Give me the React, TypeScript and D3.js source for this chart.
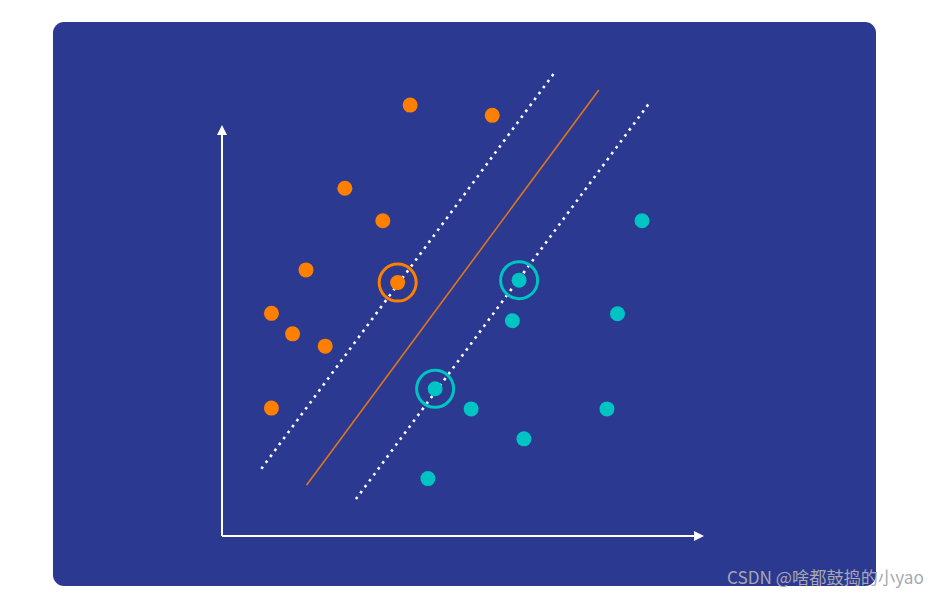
import React from "react";
import * as d3 from "d3";

// two classes of points (x, y in chart units)
const orangePoints: [number, number][] = [
  [39.2, 105.1],
  [56.3, 102.6],
  [25.6, 84.8],
  [33.5, 76.9],
  [17.5, 64.9],
  [36.6, 61.8],
  [10.3, 54.3],
  [14.7, 49.3],
  [21.5, 46.3],
  [10.3, 31.2],
];

const tealPoints: [number, number][] = [
  [87.5, 76.9],
  [61.9, 62.4],
  [60.5, 52.5],
  [82.4, 54.2],
  [44.4, 35.9],
  [51.9, 31.0],
  [80.2, 31.0],
  [62.9, 23.7],
  [42.9, 14.0],
];

// support vectors (ringed)
const orangeSupport: [number, number][] = [[36.6, 61.8]];
const tealSupport: [number, number][] = [
  [61.9, 62.4],
  [44.4, 35.9],
];

// margin lines and the decision boundary
const upperMargin: [number, number][] = [
  [8.2, 16.4],
  [69.2, 112.9],
];
const boundary: [number, number][] = [
  [17.6, 12.4],
  [78.5, 108.8],
];
const lowerMargin: [number, number][] = [
  [27.9, 9.0],
  [88.9, 105.4],
];

const axisMax = 100;
const watermark = "CSDN @啥都鼓捣的小yao";

const BG = "#2B3990";
const ORANGE = "#FF7F00";
const TEAL = "#00C3C3";

export default function App() {
  const width = 931;
  const height = 595;

  const x = d3.scaleLinear().domain([0, 100]).range([222, 702]);
  const y = d3.scaleLinear().domain([0, 100]).range([536, 126]);

  const line = d3
    .line<[number, number]>()
    .x((d) => x(d[0]))
    .y((d) => y(d[1]));

  const ox = x(0);
  const oy = y(0);
  const xEnd = x(axisMax) + 2;
  const yEnd = y(axisMax) - 1;

  return (
    <svg
      width={width}
      height={height}
      style={{ position: "absolute", left: 0, top: 0 }}
    >
      <rect x={0} y={0} width={width} height={height} fill="#ffffff" />
      <rect x={53} y={22} width={823} height={564} rx={11} fill={BG} />

      {/* axes */}
      <g stroke="#ffffff" strokeWidth={2} fill="#ffffff">
        <line x1={ox} y1={oy} x2={xEnd - 9} y2={oy} />
        <line x1={ox} y1={oy} x2={ox} y2={yEnd + 10} />
        <path
          d={`M${xEnd},${oy} L${xEnd - 10},${oy - 5} L${xEnd - 10},${oy + 5} Z`}
          stroke="none"
        />
        <path
          d={`M${ox},${yEnd} L${ox - 5},${yEnd + 10} L${ox + 5},${yEnd + 10} Z`}
          stroke="none"
        />
      </g>

      {/* margins */}
      {[upperMargin, lowerMargin].map((m, i) => (
        <path
          key={i}
          d={line(m)!}
          fill="none"
          stroke="#ffffff"
          strokeWidth={2.6}
          strokeDasharray="2.6 4.8"
        />
      ))}
      <path d={line(boundary)!} fill="none" stroke="#E0751C" strokeWidth={1.6} />

      {/* points */}
      {orangePoints.map((d, i) => (
        <circle key={"o" + i} cx={x(d[0])} cy={y(d[1])} r={7.5} fill={ORANGE} />
      ))}
      {tealPoints.map((d, i) => (
        <circle key={"t" + i} cx={x(d[0])} cy={y(d[1])} r={7.5} fill={TEAL} />
      ))}

      {/* support vector rings */}
      {orangeSupport.map((d, i) => (
        <circle
          key={"os" + i}
          cx={x(d[0])}
          cy={y(d[1])}
          r={18.5}
          fill="none"
          stroke={ORANGE}
          strokeWidth={3}
        />
      ))}
      {tealSupport.map((d, i) => (
        <circle
          key={"ts" + i}
          cx={x(d[0])}
          cy={y(d[1])}
          r={18.5}
          fill="none"
          stroke={TEAL}
          strokeWidth={3}
        />
      ))}

      <text
        x={727}
        y={584}
        fontFamily="'Noto Sans CJK SC', 'Noto Sans', sans-serif"
        fontSize={17.2}
        fill="#A8A8B0"
      >
        {watermark}
      </text>
    </svg>
  );
}
